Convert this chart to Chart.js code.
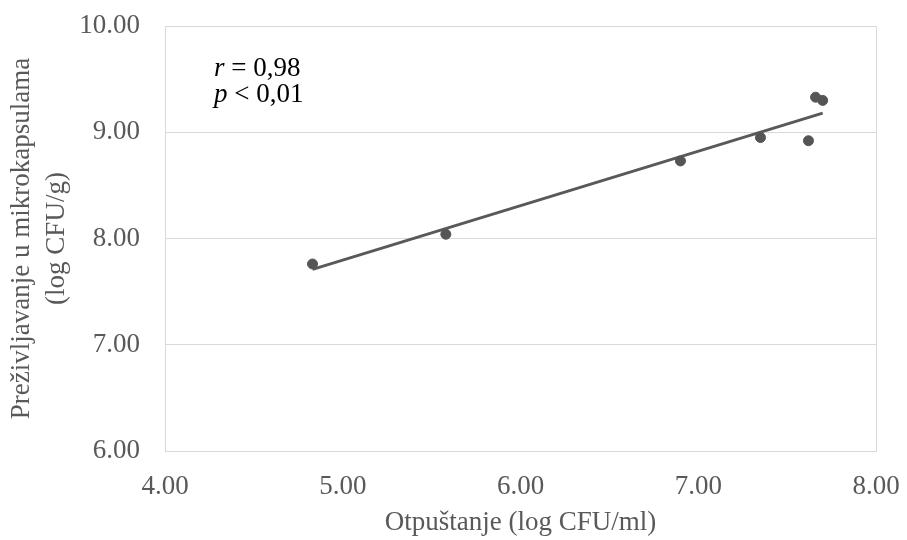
<!DOCTYPE html>
<html><head><meta charset="utf-8">
<script src="https://cdn.jsdelivr.net/npm/chart.js@4.4.1/dist/chart.umd.min.js"></script>
<style>html,body{margin:0;padding:0;background:#fff;}#wrap{width:907px;height:540px;}</style>
</head><body><div id="wrap"><canvas id="c" width="907" height="540"></canvas></div>
<script>
// Data
const xValues = [4.83, 5.58, 6.90, 7.35, 7.62, 7.66, 7.70];
const yValues = [7.76, 8.04, 8.73, 8.95, 8.92, 9.33, 9.30];
const trendX = [4.83, 7.70];
const trendY = [7.71, 9.18];
const xTicks = [4, 5, 6, 7, 8];
const yTicks = [6, 7, 8, 9, 10];
const xTitle = 'Otpuštanje (log CFU/ml)';
const yTitle = ['Preživljavanje u mikrokapsulama', '(log CFU/g)'];
const statLines = [['r', ' = 0,98'], ['p', ' < 0,01']];

const FONT = '"Liberation Serif", "Times New Roman", serif';
const GREY = '#595959';
const GRID = '#d9d9d9';

const points = xValues.map((x, i) => ({x: x, y: yValues[i]}));
const trend = trendX.map((x, i) => ({x: x, y: trendY[i]}));

const statsPlugin = {
  id: 'stats',
  afterDraw(chart) {
    const ctx = chart.ctx, a = chart.chartArea;
    ctx.save();
    ctx.fillStyle = '#000';
    ctx.textBaseline = 'alphabetic';
    ctx.textAlign = 'left';
    const x0 = a.left + 49, y0 = a.top + 50, lh = 26;
    statLines.forEach((ln, i) => {
      ctx.font = 'italic 27px ' + FONT;
      ctx.fillText(ln[0], x0, y0 + i * lh);
      const w = ctx.measureText(ln[0]).width;
      ctx.font = '27px ' + FONT;
      ctx.fillText(ln[1], x0 + w, y0 + i * lh);
    });
    ctx.restore();
  }
};

new Chart(document.getElementById('c'), {
  type: 'scatter',
  data: {
    datasets: [
      {
        label: 'Podaci',
        data: points,
        backgroundColor: '#555555',
        borderColor: '#555555',
        pointRadius: 5,
        pointHoverRadius: 5,
        order: 1
      },
      {
        label: 'Trend',
        type: 'line',
        data: trend,
        borderColor: GREY,
        borderWidth: 3,
        pointRadius: 0,
        fill: false,
        tension: 0,
        order: 2
      }
    ]
  },
  options: {
    responsive: false,
    devicePixelRatio: 1,
    animation: false,
    layout: {padding: {top: 26, right: 31, left: 0, bottom: 0}},
    plugins: {legend: {display: false}, tooltip: {enabled: false}},
    scales: {
      x: {
        type: 'linear',
        min: 4, max: 8,
        afterBuildTicks: s => { s.ticks = xTicks.map(v => ({value: v})); },
        afterFit: s => { s.height = 89; s.paddingLeft = 0; s.paddingRight = 0; s.paddingTop = 0; s.paddingBottom = 0; },
        ticks: {
          color: GREY,
          font: {family: FONT, size: 27},
          padding: 20,
          callback: v => Number(v).toFixed(2)
        },
        grid: {
          drawTicks: false,
          color: ctx => (ctx.tick && ctx.tick.value === 8) ? GRID : 'rgba(0,0,0,0)',
          lineWidth: 1
        },
        border: {display: true, color: GRID, width: 1},
        title: {
          display: true,
          text: xTitle,
          color: GREY,
          font: {family: FONT, size: 27, lineHeight: 1.3},
          padding: {top: 0, bottom: 0}
        }
      },
      y: {
        type: 'linear',
        min: 6, max: 10,
        afterBuildTicks: s => { s.ticks = yTicks.map(v => ({value: v})); },
        afterFit: s => { s.width = 165; s.paddingLeft = 0; s.paddingRight = 0; s.paddingTop = 0; s.paddingBottom = 0; },
        ticks: {
          color: GREY,
          font: {family: FONT, size: 27},
          padding: 25,
          callback: v => Number(v).toFixed(2)
        },
        grid: {drawTicks: false, color: GRID, lineWidth: 1},
        border: {display: true, color: GRID, width: 1},
        title: {
          display: true,
          text: yTitle,
          color: GREY,
          font: {family: FONT, size: 27, lineHeight: 1.3},
          padding: {top: 4, bottom: 0}
        }
      }
    }
  },
  plugins: [statsPlugin]
});
</script>
</body></html>
